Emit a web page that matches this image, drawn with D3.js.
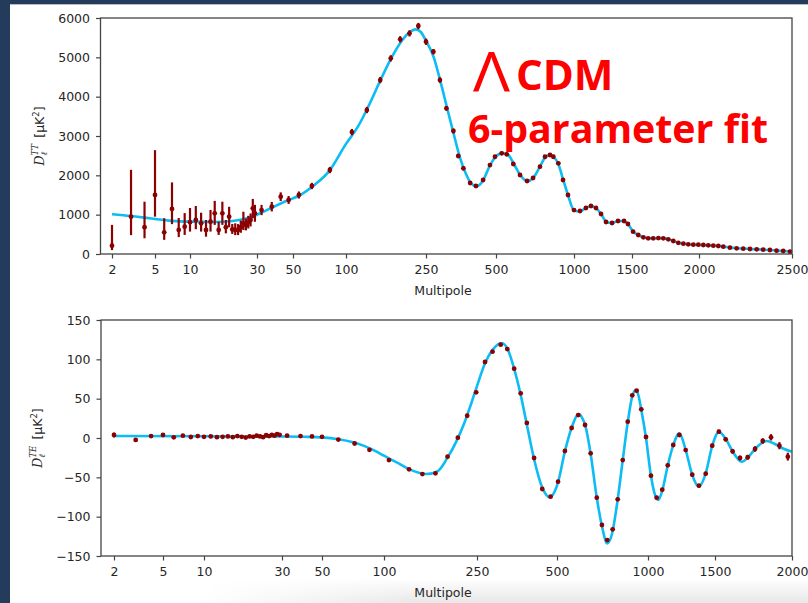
<!DOCTYPE html>
<html>
<head>
<meta charset="utf-8">
<script src="https://cdn.jsdelivr.net/npm/d3@7"></script>
<style>
  html, body { margin: 0; padding: 0; background: #253b5b; }
  svg { display: block; }
  .tick text { font-family: "DejaVu Sans", sans-serif; font-size: 12.5px; fill: #262626; }
  .tick line { stroke: #444; stroke-width: 1.2; }
</style>
</head>
<body>
<svg id="chart" width="808" height="603"></svg>
<script>
// ---- data ----
var ttTicks = [2, 5, 10, 30, 50, 100, 250, 500, 1000, 1500, 2000, 2500];
var teTicks = [2, 5, 10, 30, 50, 100, 250, 500, 1000, 1500, 2000];
var ttYTicks = [0, 1000, 2000, 3000, 4000, 5000, 6000];
var teYTicks = [-150, -100, -50, 0, 50, 100, 150];

// low multipoles TT: value with lower / upper end of error bar
var ttLowEll = [2, 3, 4, 5, 6, 7, 8, 9, 10, 11, 12, 13, 14, 15, 16, 17, 18, 19, 20, 21, 22, 23, 24, 25, 26, 27, 28, 29];
var ttLowVal = [210, 950, 680, 1500, 550, 1145, 610, 695, 810, 865, 780, 610, 820, 1035, 610, 1035, 680, 950, 625, 610, 610, 680, 780, 740, 800, 865, 1160, 1035];
var ttLowLo  = [100, 480, 400, 950, 360, 760, 430, 485, 570, 630, 570, 440, 570, 740, 485, 740, 525, 680, 510, 480, 480, 540, 610, 600, 650, 700, 910, 820];
var ttLowHi  = [740, 2140, 1330, 2640, 910, 1820, 915, 1040, 1170, 1220, 1050, 865, 1120, 1350, 820, 1330, 865, 1200, 765, 780, 760, 850, 1075, 900, 970, 1030, 1400, 1250];

// binned TT: [ell, D, error]
var ttBinned = [
  [32,1118,130],[37,1203,120],[42,1457,110],[47,1373,100],[54,1500,90],[64,1729,80],[81,2135,80],
  [107,3100,80],[127,3660,80],[148,4423,80],[167,4975,80],[186,5458,80],[207,5610,80],[229,5796,80],
  [250,5397,80],[269,5143,70],[287,4423,70],[306,3704,60],[328,3127,60],[344,2491,50],[362,2178,50],
  [387,1805,45],[410,1729,45],[440,1881,45],[471,2262,45],[495,2473,45],[526,2560,45],[550,2534,45],
  [583,2288,40],[619,2008,40],[659,1856,40],[695,1932,40],[739,2219,40],[773,2473,40],[808,2517,40],
  [832,2473,40],[870,2306,40],[907,1881,35],[948,1500,35],[1000,1118,30],[1043,1093,30],[1087,1169,30],
  [1126,1220,30],[1166,1169,30],[1208,1017,30],[1251,813,25],[1305,788,25],[1360,839,25],[1419,839,25],
  [1458,763,25],[1507,567,20],[1541,483,20],[1575,424,20],[1608,398,20],[1643,398,20],[1680,405,20],
  [1716,398,20],[1753,373,20],[1791,330,20],[1830,285,20],[1870,262,20],[1910,246,20],[1952,237,20],
  [1994,237,20],[2021,229,20],[2045,220,20],[2070,212,20],[2095,203,20],[2120,186,20],[2154,161,20],
  [2189,144,20],[2224,136,20],[2260,127,20],[2297,119,20],[2333,110,20],[2371,102,25],[2409,85,25],
  [2448,76,25],[2488,59,30]
];

// best-fit TT model: [ell, D]
var ttModel = [
  [2,1010],[3,965],[4,925],[5,890],[7,842],[10,822],[15,815],[20,840],[25,905],[30,1000],[38,1200],
  [45,1340],[55,1500],[65,1730],[80,2100],[100,2800],[115,3250],[130,3780],[150,4470],[170,5030],
  [190,5430],[210,5660],[222,5712],[235,5650],[250,5420],[270,5000],[290,4330],[310,3650],[330,3020],
  [350,2450],[370,2060],[390,1800],[412,1720],[440,1870],[470,2240],[500,2480],[530,2565],[555,2530],
  [585,2300],[620,2010],[660,1850],[695,1930],[740,2230],[775,2460],[810,2520],[835,2470],[870,2290],
  [910,1870],[950,1480],[1000,1110],[1040,1080],[1085,1165],[1125,1220],[1165,1170],[1210,1010],
  [1255,815],[1300,785],[1360,835],[1415,840],[1460,760],[1505,580],[1540,485],[1575,425],[1610,400],
  [1650,398],[1690,402],[1720,398],[1755,372],[1790,330],[1830,286],[1870,262],[1910,246],[1950,238],
  [2000,233],[2045,220],[2095,203],[2120,188],[2155,162],[2190,145],[2225,136],[2260,127],[2300,118],
  [2335,110],[2370,101],[2410,86],[2450,76],[2500,60]
];

// TE points: [ell, D, error]
var teData = [
  [2,3.8,3],[3,-2.5,2.5],[4,2.5,1.5],[5,3.8,1.5],[6,0.9,1.2],[7,3,1.2],[8,1.3,1],[9,2.5,1],
  [10,1.5,1],[11,2,1],[12,1,1],[13,1.5,1],[14,2,1],[15,1,1],[16,2.5,1],[17,1.5,1],[18,0.5,1],[19,2,1],
  [20,1.5,1],[21,3,1],[22,2,1],[23,1,1],[24,3.5,1],[25,2.5,1],[26,4,1],[27,3,1],[28,5,1],[29,4,1],
  [32,3,1],[38,2.5,1],[44,2,1],[50,1.5,1],[60,-2,1],[72,-7,1],[85,-15,1],[105,-28,1],[128,-39.8,1],
  [146,-45.8,1],[166,-44.9,1],[187,-23.7,1],[207,0.4,1],[227,28.3,1],[248,58.1,1],[268,96.6,1],
  [286,109.7,1],[307,118.6,1],[325,113.1,1],[345,88.1,1],[365,56.8,1],[385,19.1,1],[410,-25.4,1],
  [440,-64.8,1],[473,-74.6,1],[504,-55.5,1],[531,-16.5,1],[559,12.7,1],[588,29.2,1],[619,16.5,1],
  [646,-19.5,1],[677,-75.9,1],[704,-110.6,1],[733,-129.7,1.5],[764,-116.1,1.5],[794,-77.9,1.5],
  [825,-28,1.5],[857,20.7,1.5],[887,54.3,1.5],[917,60.1,1.5],[950,36.5,1.5],[985,1.3,1.5],
  [1018,-47.9,1.5],[1054,-75.9,1.5],[1090,-65.7,1.5],[1127,-34.7,2],[1165,-8.9,2],[1209,3.8,2],
  [1256,-15.3,2],[1307,-46.6,2],[1361,-60.6,2],[1418,-45.4,2],[1475,-9.8,2.5],[1522,8,2.5],
  [1561,-1.7,2.5],[1602,-16.9,3],[1647,-25.4,3],[1695,-24.5,3],[1742,-14,3.5],[1793,-3.8,3.5],
  [1849,0.9,4],[1908,-9.8,4.5],[1969,-23.7,5]
];

// best-fit TE model: [ell, D]
var teModel = [
  [2,2.5],[10,2.2],[20,2],[30,2],[40,1.6],[50,0.8],[60,-1.5],[70,-5],[80,-10],[90,-16],[100,-22.5],
  [115,-32],[130,-40.5],[152,-45.8],[170,-42],[187,-25],[205,-3],[220,18],[235,42],[250,66],[268,95],
  [286,112],[300,119],[310,120.4],[325,114],[345,88],[365,55],[385,17],[410,-27],[440,-63],[470,-75.4],
  [490,-68],[505,-55],[531,-17],[560,14],[590,30.5],[605,26],[620,16],[646,-20],[677,-76],[705,-113],
  [733,-133.9],[760,-122],[794,-78],[825,-28],[857,20],[887,53],[912,61],[930,54],[950,36],[985,0],
  [1018,-48],[1040,-70],[1064,-78.8],[1090,-67],[1127,-35],[1165,-9],[1209,5.9],[1256,-15],[1307,-47],
  [1361,-61.9],[1418,-45],[1475,-10],[1522,7.6],[1561,-1],[1602,-17],[1657,-30.1],[1700,-24],
  [1742,-14],[1819,-3.8],[1870,-7],[1930,-13],[2000,-17.4]
];

// ---- drawing ----
var svg = d3.select('#chart');
var lineColor = '#0cbcf4', dotColor = '#8b0000', axisColor = '#444';

// slide background
svg.append('rect').attr('width', 808).attr('height', 603).attr('fill', '#253b5b');
svg.append('rect').attr('x', 10).attr('y', 4).attr('width', 798).attr('height', 599)
    .attr('fill', '#fff');
svg.append('line').attr('x1', 10).attr('x2', 808).attr('y1', 4.5).attr('y2', 4.5)
    .attr('stroke', '#b8bcc4').attr('stroke-width', 1);

var defs = svg.append('defs');
var shade = defs.append('linearGradient').attr('id', 'shade')
    .attr('x1', 0).attr('y1', 0).attr('x2', 0).attr('y2', 1);
shade.append('stop').attr('offset', 0).attr('stop-color', '#000').attr('stop-opacity', 0);
shade.append('stop').attr('offset', 1).attr('stop-color', '#000').attr('stop-opacity', 0.09);
var fadeX = defs.append('linearGradient').attr('id', 'fadeX');
fadeX.append('stop').attr('offset', 0).attr('stop-color', '#fff').attr('stop-opacity', 0);
fadeX.append('stop').attr('offset', 0.35).attr('stop-color', '#fff').attr('stop-opacity', 1);
defs.append('mask').attr('id', 'fadeMask')
    .append('rect').attr('x', 200).attr('y', 578).attr('width', 608).attr('height', 25)
    .attr('fill', 'url(#fadeX)');
svg.append('rect').attr('x', 200).attr('y', 578).attr('width', 608).attr('height', 25)
    .attr('fill', 'url(#shade)').attr('mask', 'url(#fadeMask)');

function drawPanel(opt) {
    var g = svg.append('g');
    var sx = d3.scaleLinear()
            .domain(opt.xTicks.map(Math.log10))
            .range(opt.xPos);
    var x = function (l) { return sx(Math.log10(l)); };
    var y = d3.scaleLinear().domain(opt.yDomain).range([opt.bottom, opt.top]);

    // axes
    var xAxis = d3.axisBottom(sx)
            .tickValues(opt.xTicks.map(Math.log10))
            .tickFormat(function (v) { return Math.round(Math.pow(10, v)); })
            .tickSize(4.5).tickPadding(7).tickSizeOuter(0);
    g.append('g').attr('transform', 'translate(0,' + opt.bottom + ')').call(xAxis)
        .call(function (a) { a.select('.domain').remove(); });

    var yAxis = d3.axisLeft(y).tickValues(opt.yTicks)
            .tickFormat(d3.format('d'))
            .tickSize(4.5).tickPadding(6).tickSizeOuter(0);
    g.append('g').attr('transform', 'translate(' + opt.left + ',0)').call(yAxis)
        .call(function (a) { a.select('.domain').remove(); });

    // model curve
    var line = d3.line()
            .x(function (d) { return x(d[0]); })
            .y(function (d) { return y(d[1]); })
            .curve(d3.curveMonotoneX);
    g.append('path').datum(opt.model)
        .attr('d', line)
        .attr('fill', 'none')
        .attr('stroke', lineColor)
        .attr('stroke-width', 2.6);

    // error bars and points
    g.selectAll('line.err').data(opt.points).enter()
        .append('line').attr('class', 'err')
        .attr('x1', function (d) { return x(d.l); })
        .attr('x2', function (d) { return x(d.l); })
        .attr('y1', function (d) { return y(d.lo); })
        .attr('y2', function (d) { return y(d.hi); })
        .attr('stroke', dotColor)
        .attr('stroke-width', 2.2);
    g.selectAll('circle.pt').data(opt.points).enter()
        .append('circle').attr('class', 'pt')
        .attr('cx', function (d) { return x(d.l); })
        .attr('cy', function (d) { return y(d.v); })
        .attr('r', 2.4)
        .attr('fill', dotColor);

    // frame
    g.append('rect')
        .attr('x', opt.left).attr('y', opt.top)
        .attr('width', opt.xPos[opt.xPos.length - 1] - opt.left)
        .attr('height', opt.bottom - opt.top)
        .attr('fill', 'none')
        .attr('stroke', axisColor)
        .attr('stroke-width', 1.3);

    // x label
    g.append('text')
        .attr('x', opt.xLabelX).attr('y', opt.xLabelY)
        .attr('text-anchor', 'middle')
        .attr('font-family', 'DejaVu Sans')
        .attr('font-size', 12.5)
        .attr('fill', '#262626')
        .text('Multipole');

    // y label: D_l^{XY} [muK^2]
    var t = g.append('text')
        .attr('transform', 'translate(' + opt.yLabelX + ',' + ((opt.top + opt.bottom) / 2) + ') rotate(-90)')
        .attr('text-anchor', 'middle')
        .attr('font-family', 'DejaVu Sans')
        .attr('font-size', 12.5)
        .attr('fill', '#262626');
    t.append('tspan').attr('font-family', 'DejaVu Serif').attr('font-style', 'italic').text('D');
    t.append('tspan').attr('font-size', 8.5).attr('dy', 3).attr('font-family', 'DejaVu Serif')
        .attr('font-style', 'italic').text('ℓ');
    t.append('tspan').attr('font-size', 8.5).attr('dy', -9).attr('dx', -3.5)
        .attr('font-family', 'DejaVu Serif').attr('font-style', 'italic').text(opt.spec);
    t.append('tspan').attr('dy', 6).text('\u2002[μK');
    t.append('tspan').attr('font-size', 8.5).attr('dy', -5).text('2');
    t.append('tspan').attr('dy', 5).text(']');
}

var ttPoints = ttLowEll.map(function (l, i) {
    return { l: l, v: ttLowVal[i], lo: ttLowLo[i], hi: ttLowHi[i] };
}).concat(ttBinned.map(function (d) {
    return { l: d[0], v: d[1], lo: d[1] - d[2], hi: d[1] + d[2] };
}));
var tePoints = teData.map(function (d) {
    return { l: d[0], v: d[1], lo: d[1] - d[2], hi: d[1] + d[2] };
});

drawPanel({
    xTicks: ttTicks,
    xPos: [112, 155, 190, 257, 293, 346, 426, 496, 574, 632, 699, 792],
    yTicks: ttYTicks, yDomain: [0, 6000],
    left: 100.5, top: 18, bottom: 254,
    model: ttModel, points: ttPoints,
    spec: 'TT', xLabelX: 443, xLabelY: 295, yLabelX: 44
});

drawPanel({
    xTicks: teTicks,
    xPos: [114, 163, 204, 282, 322, 384, 477, 557, 648, 715, 792],
    yTicks: teYTicks, yDomain: [-150, 150],
    left: 101, top: 320, bottom: 556,
    model: teModel, points: tePoints,
    spec: 'TE', xLabelX: 443, xLabelY: 596.5, yLabelX: 42
});

// red annotation
var note = svg.append('g').attr('fill', '#ff0000').attr('font-family', 'Open Sans');
note.append('text').attr('x', 473).attr('y', 90.5)
    .attr('font-size', 54).attr('font-weight', 400)
    .attr('textLength', 37).attr('lengthAdjust', 'spacingAndGlyphs')
    .text('Λ');
note.append('text').attr('x', 516).attr('y', 90)
    .attr('font-size', 42).attr('font-weight', 700).text('CDM');
note.append('text').attr('x', 468).attr('y', 143)
    .attr('font-size', 40).attr('font-weight', 700)
    .attr('textLength', 300).attr('lengthAdjust', 'spacingAndGlyphs')
    .text('6-parameter fit');
</script>
</body>
</html>
